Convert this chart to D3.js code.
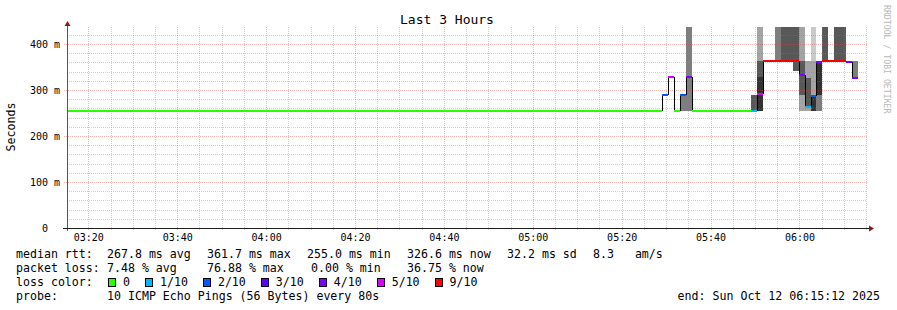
<!DOCTYPE html>
<html>
<head>
<meta charset="utf-8">
<script src="https://cdn.jsdelivr.net/npm/d3@7"></script>
<style>
  body { margin: 0; background: #fff; }
  svg text { font-family: "DejaVu Sans Mono", monospace; fill: #000; white-space: pre; }
</style>
</head>
<body>
<div id="chart"></div>
<script>
// Zeitraum des Graphen
const day = "2025-10-12 "
const graphStart = "03:15:12"
const graphEnd = "06:15:12"

// Messschritte (80s), Start jedes Abschnitts, letzter endet bei stepEnd
const stepStart = ["03:15:12", "05:29:10", "05:30:30", "05:31:50", "05:33:10", "05:34:30", "05:35:50",
  "05:49:10", "05:50:30", "05:51:50", "05:53:10", "05:54:30", "05:55:50", "05:57:10", "05:58:30",
  "05:59:50", "06:01:10", "06:02:30", "06:03:50", "06:05:10", "06:06:30", "06:07:50", "06:09:10",
  "06:10:30", "06:11:50"]
const stepEnd = "06:13:10"

// Median rtt in ms
const medianMs = [255, 290, 328, 255, 290, 328, 255,
  255, 291, 362, 362, 362, 362, 362, 362,
  332, 263, 288, 360, 362, 362, 362, 362,
  361, 327]

// verlorene Pings von 10
const lossCount = [0, 2, 5, 0, 2, 4, 0,
  1, 5, 9, 9, 9, 9, 9, 9,
  4, 1, 2, 4, 9, 9, 9, 9,
  4, 4]

// sortierte Pings (ms) für den Rauch, null = verloren
const pingsMs = [
  [255, 255, 255, 255, 255, 255, 255, 255, 255, 255],
  [null, 290, 290, 290, 290, 290, 290, 290, 290, null],
  [null, null, 328, 328, 328, 328, 328, null, null, null],
  [255, 255, 255, 255, 255, 255, 255, 255, 255, 255],
  [null, 255, 255, 290, 290, 290, 290, 290, 290, null],
  [null, null, 255, 328, 328, 328, 328, 500, null, null],
  [255, 255, 255, 255, 255, 255, 255, 255, 255, 255],
  [255, 255, 255, 255, 255, 255, 290, 290, 290, null],
  [null, 255, 255, 255, 255, 328, 362, 362, 500, null],
  [null, null, null, null, 362, null, null, null, null, null],
  [null, null, null, null, 362, null, null, null, null, null],
  [null, null, 362, 362, 362, 362, 362, 500, null, null],
  [null, null, 362, 362, 362, 362, 500, 500, null, null],
  [null, null, 362, 362, 362, 362, 500, 500, null, null],
  [null, null, 341, 341, 362, 362, 500, 500, null, null],
  [null, 255, 289, 289, 332, 332, 362, 362, 500, null],
  [255, 255, 263, 263, 263, 263, 326, 326, 362, null],
  [255, 255, 255, 255, 255, 288, 288, 288, 362, 500],
  [null, null, 255, 290, 290, 360, 362, 362, null, null],
  [null, null, 362, 362, 362, 362, 500, 500, null, null],
  [null, null, null, null, 362, null, null, null, null, null],
  [null, null, 362, 362, 362, 362, 500, 500, null, null],
  [null, null, 362, 362, 362, 362, 500, 500, null, null],
  [null, null, null, 361, 361, 361, 361, null, null, null],
  [null, null, 327, 327, 327, 327, 327, 362, null, null]
]

// Verlustfarben
const lossLabels = ["0", "1/10", "2/10", "3/10", "4/10", "5/10", "9/10"]
const lossColors = ["#26ff00", "#00b8ff", "#0059ff", "#5e00ff", "#7e00ff", "#dd00ff", "#ff0000"]
const lossLimits = [1, 2, 3, 4, 5, 9]
const smokeShades = ["#cacaca", "#a4a4a4", "#7e7e7e", "#585858", "#323232"]

// Achsenbeschriftung
const yTicks = [0, 100, 200, 300, 400]
const yTickLabels = ["0  ", "100 m", "200 m", "300 m", "400 m"]
const yMax = 437

// Legende
const rttStats = ["267.8 ms avg", "361.7 ms max", "255.0 ms min", "326.6 ms now", "32.2 ms sd", "8.3   am/s"]
const lossStats = ["7.48 % avg", "76.88 % max", "0.00 % min", "36.75 % now"]
const probeText = "10 ICMP Echo Pings (56 Bytes) every 80s"
const endText = "end: Sun Oct 12 06:15:12 2025"

const W = 897, H = 310
const plot = { left: 67, right: 867, top: 27, bottom: 228 }

const parse = d3.timeParse("%Y-%m-%d %H:%M:%S")
const t = s => parse(day + s)

const svg = d3.select("#chart").append("svg")
  .attr("width", W)
  .attr("height", H)

svg.append("rect").attr("width", W).attr("height", H).attr("fill", "#fff")

const x = d3.scaleTime().domain([t(graphStart), t(graphEnd)]).range([plot.left, plot.right])
const y = d3.scaleLinear().domain([0, yMax]).range([plot.bottom, plot.top])
const lossColor = d3.scaleThreshold().domain(lossLimits).range(lossColors)

const steps = stepStart.map((s, i) => ({
  x0: Math.round(x(t(s))),
  x1: Math.round(x(t(i + 1 < stepStart.length ? stepStart[i + 1] : stepEnd))),
  med: medianMs[i],
  loss: lossCount[i],
  pings: pingsMs[i]
}))

svg.append("defs").append("clipPath").attr("id", "clip")
  .append("rect")
  .attr("x", plot.left).attr("y", plot.top)
  .attr("width", plot.right - plot.left).attr("height", plot.bottom - plot.top)

// Rauch
const smoke = svg.append("g").attr("clip-path", "url(#clip)").attr("shape-rendering", "crispEdges")
steps.forEach(d => {
  for (let b = 0; b < 5; b++) {
    const lo = d.pings[b], hi = d.pings[9 - b]
    if (lo == null || hi == null || hi <= lo) continue
    const yt = Math.round(y(Math.min(hi, yMax + 10)))
    const yb = Math.round(y(lo))
    smoke.append("rect")
      .attr("x", d.x0).attr("width", d.x1 - d.x0)
      .attr("y", yt).attr("height", yb - yt)
      .attr("fill", smokeShades[b])
  }
})

// Gitter
const grid = svg.append("g").attr("shape-rendering", "crispEdges")
const minorY = d3.range(20, yMax, 20).filter(v => v % 100 !== 0)
const majorY = yTicks.filter(v => v > 0)
const minorX = d3.timeMinute.every(5).range(t(graphStart), t(graphEnd)).filter(d => d.getMinutes() % 20 !== 0)
const majorX = d3.timeMinute.every(20).range(t(graphStart), t(graphEnd))

grid.selectAll(".minor-y").data(minorY).enter().append("line")
  .attr("x1", plot.left).attr("x2", plot.right)
  .attr("y1", d => Math.round(y(d)) + 0.5).attr("y2", d => Math.round(y(d)) + 0.5)
  .attr("stroke", "rgba(128,128,128,0.38)").attr("stroke-dasharray", "1,1")
grid.selectAll(".minor-x").data(minorX).enter().append("line")
  .attr("x1", d => Math.round(x(d)) + 0.5).attr("x2", d => Math.round(x(d)) + 0.5)
  .attr("y1", plot.top).attr("y2", plot.bottom + 2)
  .attr("stroke", "rgba(128,128,128,0.38)").attr("stroke-dasharray", "1,1")
grid.selectAll(".major-y").data(majorY).enter().append("line")
  .attr("x1", plot.left - 3).attr("x2", plot.right)
  .attr("y1", d => Math.round(y(d)) + 0.5).attr("y2", d => Math.round(y(d)) + 0.5)
  .attr("stroke", "rgba(230,70,70,0.4)").attr("stroke-dasharray", "1,1")
grid.selectAll(".major-x").data(majorX).enter().append("line")
  .attr("x1", d => Math.round(x(d)) + 0.5).attr("x2", d => Math.round(x(d)) + 0.5)
  .attr("y1", plot.top).attr("y2", plot.bottom + 3)
  .attr("stroke", "rgba(230,70,70,0.4)").attr("stroke-dasharray", "1,1")

// Median: schwarze Verbindungen, farbige Stufen
const med = svg.append("g").attr("shape-rendering", "crispEdges")
steps.forEach((d, i) => {
  if (i === 0) return
  const p = steps[i - 1]
  if (p.med === d.med) return
  med.append("line")
    .attr("x1", d.x0 + 0.5).attr("x2", d.x0 + 0.5)
    .attr("y1", Math.round(y(p.med))).attr("y2", Math.round(y(d.med)))
    .attr("stroke", "#000").attr("stroke-width", 1)
})
steps.forEach(d => {
  med.append("line")
    .attr("x1", d.x0).attr("x2", d.x1)
    .attr("y1", Math.round(y(d.med))).attr("y2", Math.round(y(d.med)))
    .attr("stroke", lossColor(d.loss)).attr("stroke-width", 2)
})

// Achsen
const xAxis = d3.axisBottom(x)
  .ticks(d3.timeMinute.every(20))
  .tickFormat(d3.timeFormat("%H:%M"))
  .tickSize(0)

svg.append("g")
  .attr("class", "x axis")
  .attr("transform", "translate(0," + plot.bottom + ")")
  .style("font-size", "10px")
  .call(xAxis)
  .call(g => g.select(".domain").remove())
  .selectAll("text")
  .attr("y", 13).attr("dy", 0)
  .style("font-family", "DejaVu Sans Mono")

const yAxis = d3.axisLeft(y)
  .tickValues(yTicks)
  .tickFormat((d, i) => yTickLabels[i])
  .tickSize(0)
  .tickPadding(7)

svg.append("g")
  .attr("class", "y axis")
  .attr("transform", "translate(" + plot.left + ",0)")
  .style("font-size", "10px")
  .call(yAxis)
  .call(g => g.select(".domain").remove())
  .selectAll("text")
  .style("font-family", "DejaVu Sans Mono")

svg.append("line")
  .attr("x1", plot.left + 0.5).attr("x2", plot.left + 0.5)
  .attr("y1", plot.bottom + 3).attr("y2", plot.top - 3)
  .attr("stroke", "#555").attr("shape-rendering", "crispEdges")
svg.append("line")
  .attr("x1", plot.left - 4).attr("x2", plot.right + 3)
  .attr("y1", plot.bottom + 0.5).attr("y2", plot.bottom + 0.5)
  .attr("stroke", "#1f1f1f").attr("shape-rendering", "crispEdges")
svg.append("path")
  .attr("d", `M${plot.left + 0.5},${plot.top - 6} L${plot.left - 2.5},${plot.top - 1} L${plot.left + 3.5},${plot.top - 1} Z`)
  .attr("fill", "#8b1c1c")
svg.append("path")
  .attr("d", `M${plot.right + 7},${plot.bottom + 0.5} L${plot.right + 2},${plot.bottom - 2.5} L${plot.right + 2},${plot.bottom + 3.5} Z`)
  .attr("fill", "#8b1c1c")

// Titel und Beschriftungen
svg.append("text")
  .attr("x", 447).attr("y", 24)
  .attr("text-anchor", "middle")
  .style("font-size", "13px")
  .text("Last 3 Hours")

svg.append("text")
  .attr("transform", "translate(15,127) rotate(-90)")
  .attr("text-anchor", "middle")
  .style("font-size", "11.6px")
  .text("Seconds")

svg.append("text")
  .attr("transform", "translate(884,5) rotate(90)")
  .style("font-size", "8.2px")
  .style("fill", "#b8b8b8")
  .text("RRDTOOL / TOBI OETIKER")

// Legende
const legend = svg.append("g").style("font-size", "11.6px")
const rowY = [258, 272, 286, 300]
const colX = [107, 207, 307, 407, 507, 593]
const lossX = [107, 207, 311, 407]

legend.append("text").attr("x", 16).attr("y", rowY[0]).text("median rtt:")
legend.selectAll(".rtt").data(rttStats).enter().append("text")
  .attr("x", (d, i) => colX[i]).attr("y", rowY[0]).text(d => d)

legend.append("text").attr("x", 16).attr("y", rowY[1]).text("packet loss:")
legend.selectAll(".loss").data(lossStats).enter().append("text")
  .attr("x", (d, i) => lossX[i]).attr("y", rowY[1]).text(d => d)

legend.append("text").attr("x", 16).attr("y", rowY[2]).text("loss color:")
let bx = 108
lossLabels.forEach((lab, i) => {
  legend.append("rect")
    .attr("x", bx + 0.5).attr("y", rowY[2] - 7.5)
    .attr("width", 7).attr("height", 8)
    .attr("fill", lossColors[i]).attr("stroke", "#000")
    .attr("shape-rendering", "crispEdges")
  const txt = legend.append("text").attr("x", bx + 15).attr("y", rowY[2]).text(lab)
  bx = bx + 15 + txt.node().getComputedTextLength() + 15
})

legend.append("text").attr("x", 16).attr("y", rowY[3]).text("probe:")
legend.append("text").attr("x", 107).attr("y", rowY[3]).text(probeText)
legend.append("text").attr("x", 880).attr("y", rowY[3]).attr("text-anchor", "end").text(endText)
</script>
</body>
</html>
